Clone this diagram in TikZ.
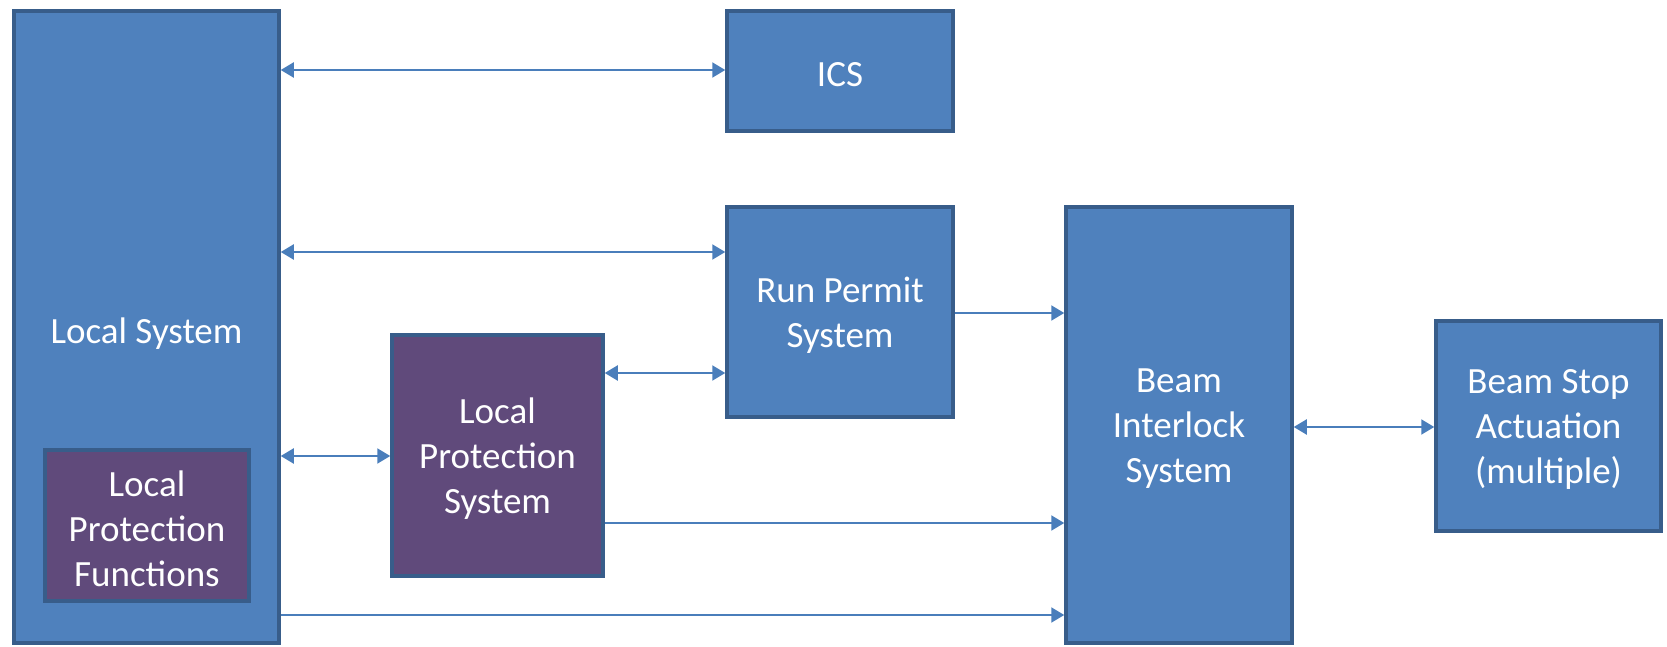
\documentclass[tikz,border=0pt]{standalone}
\usepackage{fontspec}
\setmainfont{Carlito}
\usetikzlibrary{arrows.meta}
\definecolor{boxblue}{HTML}{4F81BD}
\definecolor{boxpurple}{HTML}{604A7B}
\definecolor{edgeblue}{HTML}{385D8A}
\definecolor{arrowblue}{HTML}{4A7EBB}
\tikzset{
  blk/.style={draw=edgeblue, line width=3.5pt, fill=boxblue, inner sep=0pt},
  pblk/.style={blk, fill=boxpurple},
  lbl/.style={text=white, inner sep=0pt, align=center, font=\fontsize{37}{45}\selectfont},
  conn/.style={draw=arrowblue, line width=2pt},
  tip/.style={-{Triangle[length=13pt,width=15pt]}},
  bitip/.style={{Triangle[length=13pt,width=15pt]}-{Triangle[length=13pt,width=15pt]}}
}
\begin{document}
\begin{tikzpicture}[x=1pt,y=-1pt]
\useasboundingbox (0,0) rectangle (1667,647);
\clip (0,0) rectangle (1667,647);
\node[blk, minimum width=265pt, minimum height=632pt] (LS) at (146.5,327) {};
\node[lbl] (LSt) at ([yshift=-7pt]LS.center) {Local System};
\node[pblk, minimum width=204pt, minimum height=151pt] (LPF) at (147,525.5) {};
\node[lbl] (LPFt) at ([yshift=-3.5pt]LPF.center) {Local\\Protection\\Functions};
\node[blk, minimum width=226pt, minimum height=120pt] (ICS) at (840,71) {};
\node[lbl] (ICSt) at ([yshift=-3.5pt]ICS.center) {ICS};
\node[blk, minimum width=226pt, minimum height=210pt] (RP) at (840,312) {};
\node[lbl] (RPt) at ([yshift=-3.5pt]RP.center) {Run Permit\\System};
\node[blk, minimum width=226pt, minimum height=436pt] (BIS) at (1179,425) {};
\node[lbl] (BISt) at ([yshift=-3.5pt]BIS.center) {Beam\\Interlock\\System};
\node[blk, minimum width=225pt, minimum height=210pt] (BSA) at (1548.5,426) {};
\node[lbl] (BSAt) at ([yshift=-3.5pt]BSA.center) {Beam Stop\\Actuation\\(multiple)};
\node[pblk, minimum width=211pt, minimum height=241pt] (LPS) at (497.5,455.5) {};
\node[lbl] (LPSt) at ([yshift=-3.5pt]LPS.center) {Local\\Protection\\System};
\coordinate (y1) at (0,70);
\coordinate (y2) at (0,252);
\coordinate (y3) at (0,456);
\coordinate (y4) at (0,615);
\coordinate (y5) at (0,373);
\coordinate (y6) at (0,523);
\coordinate (y7) at (0,313);
\coordinate (y8) at (0,427);
\draw[conn,bitip] (LS.east |- y1) -- (ICS.west |- y1);
\draw[conn,bitip] (LS.east |- y2) -- (RP.west |- y2);
\draw[conn,bitip] (LS.east |- y3) -- (LPS.west |- y3);
\draw[conn,tip] (LS.east |- y4) -- (BIS.west |- y4);
\draw[conn,bitip] (LPS.east |- y5) -- (RP.west |- y5);
\draw[conn,tip] (LPS.east |- y6) -- (BIS.west |- y6);
\draw[conn,tip] (RP.east |- y7) -- (BIS.west |- y7);
\draw[conn,bitip] (BIS.east |- y8) -- (BSA.west |- y8);
\end{tikzpicture}
\end{document}
